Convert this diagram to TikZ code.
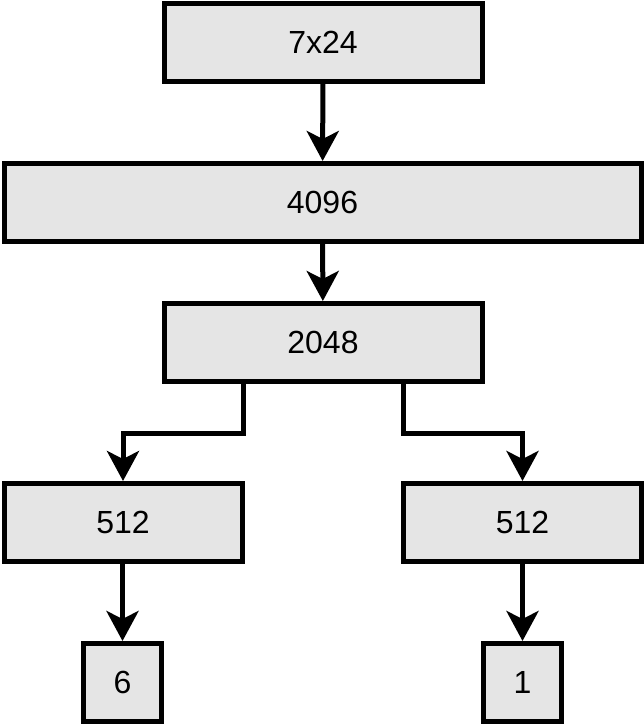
\documentclass[tikz,border=0pt]{standalone}
\usepackage{fontspec}
\setmainfont{Liberation Sans}
\usetikzlibrary{arrows.meta}
\begin{document}
\begin{tikzpicture}[x=1pt,y=-1pt,
  box/.style={draw=black, line width=5pt, fill=black!10, rectangle,
    inner sep=0pt, minimum height=78pt, font=\fontsize{32}{38}\selectfont},
  conn/.style={line width=5pt, -{Stealth[length=30pt,width=32pt,inset=8pt]}}]
  \useasboundingbox (0,0) rectangle (644,724);
  \node[box, minimum width=318pt] (a) at (323,42.5) {7x24};
  \node[box, minimum width=637pt] (b) at (322.5,202.5) {4096};
  \node[box, minimum width=318pt] (c) at (323,342.5) {2048};
  \node[box, minimum width=238pt] (d) at (123,522.5) {512};
  \node[box, minimum width=238pt] (e) at (522.5,522.5) {512};
  \node[box, minimum width=78pt] (f) at (122.5,682.5) {6};
  \node[box, minimum width=78pt] (g) at (522.5,682.5) {1};
  \coordinate (lk) at (243,433);
  \coordinate (rk) at (403,433);
  \draw[conn] (a) -- (b);
  \draw[conn] (b) -- (c);
  \draw[conn] (c.south -| lk) -- (lk) -| (d.north);
  \draw[conn] (c.south -| rk) -- (rk) -| (e.north);
  \draw[conn] (d.south -| f) -- (f.north);
  \draw[conn] (e.south -| g) -- (g.north);
\end{tikzpicture}
\end{document}
